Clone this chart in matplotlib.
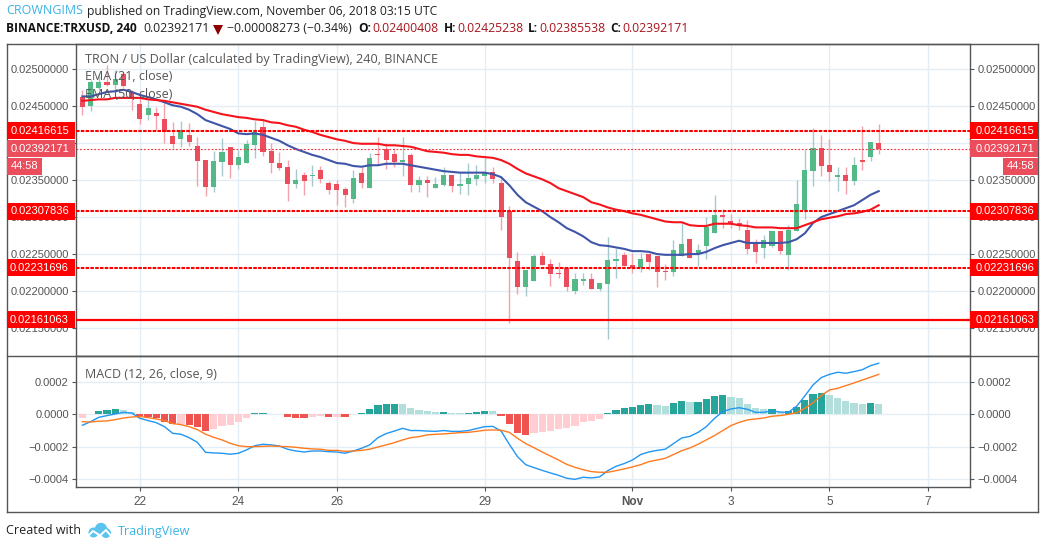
import matplotlib
matplotlib.use("Agg")
import matplotlib.pyplot as plt
import numpy as np
from matplotlib.patches import Rectangle, Circle, Polygon
from matplotlib.lines import Line2D
from matplotlib.transforms import IdentityTransform

# Prices in units of 1e-5 USD
opens = [2462,2450,2474,2482,2478,2493,2469,2453,2438,2441,
         2432,2410,2405,2411,2396,2377,2341,2374,2395,2370,
         2373,2397,2422,2389,2373,2368,2345,2357,2355,2364,
         2346,2345,2338,2324,2359,2339,2385,2392,2385,2374,
         2384,2343,2350,2339,2343,2357,2342,2345,2351,2355,
         2361,2346,2308,2241,2206,2214,2247,2236,2224,2231,
         2200,2214,2216,2203,2209,2241,2249,2235,2231,2250,
         2247,2227,2226,2247,2270,2250,2261,2278,2303,2295,
         2292,2282,2265,2258,2261,2281,2249,2281,2310,2362,
         2393,2370,2354,2357,2349,2377,2381,2400.4]
highs = [2472,2485,2495,2505,2499,2496,2472,2461,2458,2449,
         2454,2428,2430,2427,2408,2377,2389,2407,2395,2391,
         2404,2430,2432,2400,2388,2377,2365,2361,2370,2369,
         2349,2350,2341,2364,2368,2386,2408,2400,2393,2408,
         2386,2356,2356,2354,2367,2357,2361,2373,2370,2380,
         2367,2354,2315,2253,2228,2250,2253,2243,2239,2231,
         2224,2224,2224,2211,2273,2258,2253,2251,2251,2250,
         2247,2236,2269,2292,2270,2263,2300,2330,2311,2304,
         2299,2296,2270,2276,2281,2281,2289,2350,2391,2420,
         2411,2405,2367,2367,2381,2423,2401,2425.2]
lows = [2438,2443,2472,2477,2472,2476,2445,2426,2431,2418,
        2400,2393,2395,2396,2342,2328,2334,2355,2353,2365,
        2373,2380,2382,2359,2364,2322,2339,2330,2342,2346,
        2331,2316,2314,2319,2339,2339,2370,2365,2367,2356,
        2334,2334,2327,2339,2342,2334,2331,2330,2343,2346,
        2346,2282,2157,2196,2193,2214,2235,2207,2218,2200,
        2196,2208,2203,2200,2135,2218,2234,2224,2226,2228,
        2206,2215,2220,2247,2245,2234,2243,2278,2285,2285,
        2282,2250,2238,2245,2260,2250,2228,2281,2297,2342,
        2355,2349,2335,2331,2343,2364,2376,2385.5]
closes = [2449,2482,2482,2478,2486,2477,2461,2432,2447,2437,
          2415,2399,2418,2401,2376,2341,2376,2388,2370,2381,
          2399,2415,2388,2373,2366,2345,2350,2349,2357,2351,
          2337,2337,2330,2353,2346,2380,2384,2377,2374,2377,
          2343,2350,2346,2345,2357,2342,2345,2353,2357,2361,
          2351,2300,2245,2206,2228,2247,2235,2223,2223,2206,
          2216,2216,2203,2211,2242,2243,2234,2231,2243,2239,
          2226,2226,2255,2263,2245,2255,2287,2303,2300,2290,
          2288,2257,2253,2269,2281,2254,2282,2318,2364,2393,
          2369,2361,2357,2349,2370,2374,2401,2392.2]
ema21 = [2463,2463,2466,2469,2470,2472,2469,2465,2462,2459,
         2455,2451,2449,2445,2439,2431,2427,2423,2419,2413,
         2412,2413,2411,2407,2403,2397,2392,2388,2384,2381,
         2377,2373,2372,2369,2368,2370,2370,2372,2372,2372,
         2370,2368,2366,2364,2362,2361,2360,2360,2360,2360,
         2358,2354,2343,2330,2320,2314,2308,2300,2293,2285,
         2280,2274,2266,2262,2261,2259,2257,2254,2254,2253,
         2250,2249,2249,2249,2250,2250,2253,2258,2262,2265,
         2268,2265,2265,2265,2265,2265,2266,2270,2278,2292,
         2300,2304,2308,2312,2316,2323,2330,2335]
ema50 = [2457,2458,2459,2459,2461,2461,2461,2461,2459,2458,
         2457,2455,2453,2451,2449,2445,2442,2439,2437,2435,
         2434,2432,2431,2428,2427,2424,2422,2418,2415,2411,
         2408,2405,2403,2400,2399,2399,2399,2397,2397,2396,
         2395,2392,2389,2388,2387,2385,2384,2384,2382,2381,
         2380,2377,2372,2365,2359,2355,2351,2346,2339,2335,
         2331,2327,2320,2317,2313,2310,2308,2305,2303,2300,
         2297,2294,2293,2293,2289,2288,2288,2291,2291,2291,
         2289,2288,2286,2286,2286,2285,2285,2285,2289,2293,
         2297,2299,2301,2304,2305,2307,2310,2316]
# MACD pane in units of 1e-6
macd_hist = [-23,4,21,27,33,27,12,-12,-17,-25,
             -46,-62,-58,-66,-77,-104,-91,-72,-66,-48,
             -23,8,8,2,1,-14,-22,-23,-16,-10,
             -16,-16,-17,2,8,33,58,64,64,63,
             39,27,21,14,14,8,7,8,14,21,
             20,-8,-62,-118,-130,-118,-112,-105,-93,-87,
             -75,-50,-43,-31,6,27,39,45,58,64,
             58,52,70,83,77,77,95,114,120,108,
             101,64,39,33,33,14,21,45,89,126,
             132,120,101,83,70,64,70,64]
macd_line = [-68,-46,-19,-8,2,12,8,-25,-39,-52,
             -77,-118,-124,-145,-174,-236,-240,-242,-248,-242,
             -221,-195,-186,-190,-197,-217,-228,-234,-228,-228,
             -232,-234,-242,-228,-211,-190,-145,-120,-104,-87,
             -101,-101,-104,-106,-101,-106,-106,-101,-89,-77,
             -75,-104,-186,-263,-313,-331,-348,-364,-379,-397,
             -404,-391,-395,-389,-350,-323,-306,-284,-250,-234,
             -224,-217,-182,-147,-137,-112,-77,-25,17,33,
             41,31,12,12,21,14,12,50,114,182,
             228,248,261,255,265,277,302,317]
signal_line = [-46,-48,-43,-41,-33,-23,-17,-14,-21,-29,
               -39,-58,-64,-77,-95,-124,-143,-159,-180,-195,
               -201,-201,-199,-197,-199,-201,-205,-211,-215,-217,
               -224,-224,-230,-228,-224,-217,-203,-190,-176,-159,
               -145,-139,-128,-124,-122,-118,-114,-112,-106,-99,
               -97,-99,-112,-149,-182,-207,-234,-259,-284,-311,
               -329,-344,-356,-360,-360,-350,-339,-327,-313,-294,
               -284,-273,-250,-226,-209,-186,-159,-132,-101,-70,
               -50,-35,-29,-23,-12,-8,0,10,37,72,
               116,151,161,178,195,213,230,248]
level_dashed = [0.02416615, 0.02307836, 0.02231696]
level_solid = [0.02161063]
last_price = 0.02392171
price_ticks = [0.0250, 0.0245, 0.0240, 0.0235, 0.0230, 0.0225, 0.0220, 0.0215]
hidden_price_labels = [0.0240]
macd_ticks = [0.0002, 0.0, -0.0002, -0.0004]
time_tick_pos = [7, 19, 31, 49, 67, 79, 91, 103]
time_tick_labels = ["22", "24", "26", "29", "Nov", "3", "5", "7"]

W, H = 1045, 549
UI = "Open Sans"
AX = "Liberation Sans"
GREY = "#555555"
GRID = "#E3EDF3"
BLUE = "#3BB3E4"
DKRED = "#A8141C"
plt.rcParams["font.family"] = [AX, "DejaVu Sans"]

fig = plt.figure(figsize=(W / 100, H / 100), dpi=100, facecolor="white")
ax = fig.add_axes([76 / W, (H - 356) / H, 894 / W, 312 / H])
ax2 = fig.add_axes([76 / W, (H - 487) / H, 894 / W, 131 / H])

o, h, l, c = [np.array(a) * 1e-5 for a in (opens, highs, lows, closes)]
idx = np.arange(len(o))
up = c >= o
ax.vlines(idx[up], l[up], h[up], color="#A5C9CC", lw=1.0, zorder=2)
ax.vlines(idx[~up], l[~up], h[~up], color="#F4A3AD", lw=1.0, zorder=2)
ax.bar(idx[up], (c - o)[up], bottom=o[up], width=0.62, color="#53B987", zorder=3)
ax.bar(idx[~up], (c - o)[~up], bottom=o[~up], width=0.62, color="#EB4D5C", zorder=3)
ax.plot(idx, np.array(ema21) * 1e-5, color="#3F55A8", lw=1.5, zorder=4)
ax.plot(idx, np.array(ema50) * 1e-5, color="#F5141C", lw=1.5, zorder=4)
for lv in level_dashed:
    ax.axhline(lv, color="#FF0000", lw=1.5, ls=(0, (1.7, 0.6)), zorder=5)
for lv in level_solid:
    ax.axhline(lv, color="#FF0000", lw=1.6, zorder=5)
ax.axhline(last_price, color="#F5303F", lw=0.8, ls=(0, (1.6, 1.6)), zorder=5)

ax.set_xlim(-0.78, 108.12)
ax.set_ylim(0.021123, 0.025338)
ax.set_yticks(price_ticks)
ax.set_yticklabels(["" if p in hidden_price_labels else "%.8f" % p for p in price_ticks])
ax.set_xticks(time_tick_pos)

hist = np.array(macd_hist, dtype=float)
prev = np.r_[hist[0], hist[:-1]]
hist_cols = []
for v, p in zip(hist, prev):
    if v >= 0:
        hist_cols.append("#26A69A" if v >= p else "#B2DFDB")
    else:
        hist_cols.append("#FFCDD2" if v >= p else "#EF5350")
ax2.bar(idx, hist * 1e-6, width=0.88, color=hist_cols, zorder=2)
ax2.plot(idx, np.array(macd_line) * 1e-6, color="#2196F3", lw=1.0, zorder=3)
ax2.plot(idx, np.array(signal_line) * 1e-6, color="#FF7A1F", lw=1.0, zorder=4)
ax2.set_xlim(-0.78, 108.12)
ax2.set_ylim(-4.515e-4, 3.62e-4)
ax2.set_yticks(macd_ticks)
ax2.set_yticklabels([("%.4f" % v).replace("-", "\u2212") for v in macd_ticks])
ax2.set_xticks(time_tick_pos)
ax2.set_xticklabels(time_tick_labels)
for lab, s in zip(ax2.get_xticklabels(), time_tick_labels):
    if s == "Nov":
        lab.set_fontweight("bold")

for a in (ax, ax2):
    a.set_axisbelow(True)
    a.grid(True, color=GRID, lw=1.0)
    a.tick_params(axis="y", left=True, right=True, labelleft=True, labelright=True,
                  length=3, width=0.8, color=GREY, labelcolor=GREY, labelsize=8, pad=2.2)
    a.tick_params(axis="x", length=3, width=0.8, color=GREY, labelcolor=GREY, labelsize=8.5, pad=3.2)
    for sp in a.spines.values():
        sp.set_color(GREY)
        sp.set_linewidth(1.0)
ax.tick_params(axis="x", bottom=False, labelbottom=False)


def T(x, y, s, **kw):
    kw.setdefault("va", "center")
    kw.setdefault("ha", "left")
    kw.setdefault("family", [UI, "DejaVu Sans"])
    kw.setdefault("zorder", 12)
    return fig.text(x, H - y, s, transform=IdentityTransform(), **kw)


def box(x0, y0, x1, y1, color, z=10):
    fig.add_artist(Rectangle((x0, H - y1), x1 - x0, y1 - y0, transform=IdentityTransform(),
                             facecolor=color, edgecolor="none", zorder=z))


def liney(x0, y0, x1, y1):
    fig.add_artist(Line2D([x0, x1], [H - y0, H - y1], transform=IdentityTransform(),
                          color=GREY, lw=1.0, zorder=9))


# outer chart frame
liney(6.5, 44, 1038, 44)
liney(6.5, 44, 6.5, 512)
liney(1038, 44, 1038, 512)
liney(6.5, 512, 1038, 512)
liney(6.5, 356, 1038, 356)


def price_px(p):
    return H - ax.transData.transform((0, p))[1]


def price_flag(p, color):
    yc = price_px(p)
    for x0, x1, tx, ha in ((7, 75, 69, "right"), (970, 1038, 976, "left")):
        box(x0, yc - 8.5, x1, yc + 8.5, color)
        T(tx, yc, "%.8f" % p, color="white", ha=ha, family=[AX], fontsize=8)


for lv in level_dashed + level_solid:
    price_flag(lv, "#FF0000")
price_flag(last_price, "#EB4D5C")
yc = price_px(last_price)
box(7, yc + 9, 42, yc + 26, "#EB4D5C")
box(1003, yc + 9, 1038, yc + 26, "#EB4D5C")
T(24.5, yc + 17.5, "44:58", color="white", ha="center", family=[AX], fontsize=8)
T(1020.5, yc + 17.5, "44:58", color="white", ha="center", family=[AX], fontsize=8)

# header
HS = 8.75
T(6, 11, "CROWNGIMS", color=BLUE, fontsize=9.0)
T(87, 11, "published on TradingView.com, November 06, 2018 03:15 UTC", color="#222222", fontsize=HS)
T(6, 29, "BINANCE:TRXUSD, 240", color="#111111", fontweight="bold", fontsize=8.6)
T(143, 29, "0.02392171", color="#222222", fontsize=8.85)
fig.add_artist(Polygon([(213, H - 25), (223, H - 25), (218, H - 35)], closed=True,
                       transform=IdentityTransform(), facecolor="#8B0000", edgecolor="none"))
T(227, 29, "\u22120.00008273 (\u22120.34%)", color="#222222", fontsize=8.85)
for x, s in ((358, "O:"), (444, "H:"), (528, "L:"), (610, "C:")):
    T(x, 29, s, color="#111111", fontweight="bold", fontsize=8.6)
for x, s in ((372, "0.02400408"), (457, "0.02425238"), (539, "0.02385538"), (622, "0.02392171")):
    T(x, 29, s, color=DKRED, fontsize=8.85)

# study titles
T(85, 60, "TRON / US Dollar (calculated by TradingView), 240, BINANCE", color=GREY, fontsize=9.1, fontweight="medium")
T(85, 77, "EMA (21, close)", color=GREY, fontsize=9.0)
T(85, 94, "EMA (50, close)", color=GREY, fontsize=9.0)
T(85, 374, "MACD (12, 26, close, 9)", color=GREY, fontsize=9.0)

# footer and logo
T(6, 531, "Created with", color="#222222", fontsize=9.0)
T(118, 531, "TradingView", color=BLUE, fontsize=9.0)
LOGO = "#5CC3EE"
for cx, cy, r in ((101, 529, 6.2), (93.5, 532.5, 5), (106, 533, 5)):
    fig.add_artist(Circle((cx, H - cy), r, transform=IdentityTransform(), facecolor=LOGO, edgecolor="none", zorder=11))
fig.add_artist(Line2D([88, 93, 100, 106, 111], [H - 536, H - 531, H - 535.5, H - 530, H - 536],
                      transform=IdentityTransform(), color="white", lw=1.4, zorder=12))

fig.savefig("out.png", dpi=100, facecolor="white")
